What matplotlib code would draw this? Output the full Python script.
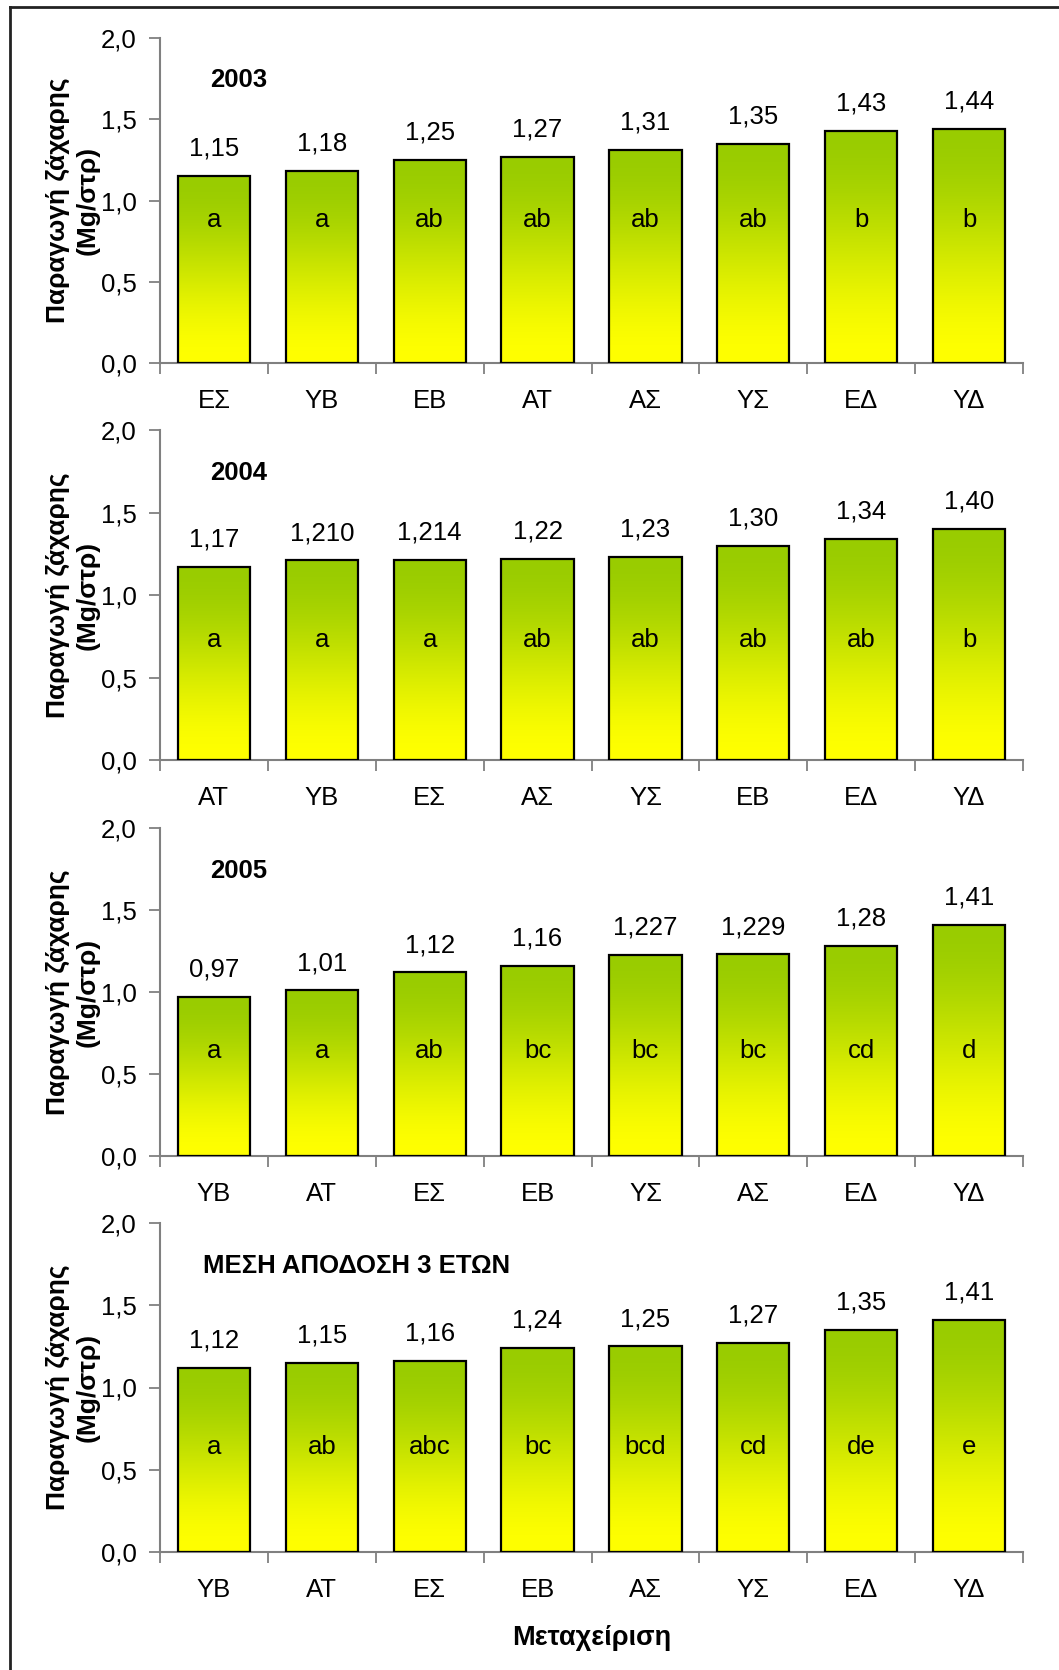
import numpy as np
import matplotlib
matplotlib.use("Agg")
import matplotlib.pyplot as plt
from matplotlib.lines import Line2D
from matplotlib.ticker import FuncFormatter

plt.rcParams['font.family'] = ['Liberation Sans', 'DejaVu Sans']

# ---- data ----
titles = ["2003", "2004", "2005", "ΜΕΣΗ ΑΠΟΔΟΣΗ 3 ΕΤΩΝ"]

cats_2003 = ["ΕΣ", "ΥΒ", "ΕΒ", "ΑΤ", "ΑΣ", "ΥΣ", "ΕΔ", "ΥΔ"]
vals_2003 = [1.15, 1.18, 1.25, 1.27, 1.31, 1.35, 1.43, 1.44]
lbls_2003 = ["1,15", "1,18", "1,25", "1,27", "1,31", "1,35", "1,43", "1,44"]
grp_2003 = ["a", "a", "ab", "ab", "ab", "ab", "b", "b"]

cats_2004 = ["ΑΤ", "ΥΒ", "ΕΣ", "ΑΣ", "ΥΣ", "ΕΒ", "ΕΔ", "ΥΔ"]
vals_2004 = [1.17, 1.210, 1.214, 1.22, 1.23, 1.30, 1.34, 1.40]
lbls_2004 = ["1,17", "1,210", "1,214", "1,22", "1,23", "1,30", "1,34", "1,40"]
grp_2004 = ["a", "a", "a", "ab", "ab", "ab", "ab", "b"]

cats_2005 = ["ΥΒ", "ΑΤ", "ΕΣ", "ΕΒ", "ΥΣ", "ΑΣ", "ΕΔ", "ΥΔ"]
vals_2005 = [0.97, 1.01, 1.12, 1.16, 1.227, 1.229, 1.28, 1.41]
lbls_2005 = ["0,97", "1,01", "1,12", "1,16", "1,227", "1,229", "1,28", "1,41"]
grp_2005 = ["a", "a", "ab", "bc", "bc", "bc", "cd", "d"]

cats_mean = ["ΥΒ", "ΑΤ", "ΕΣ", "ΕΒ", "ΑΣ", "ΥΣ", "ΕΔ", "ΥΔ"]
vals_mean = [1.12, 1.15, 1.16, 1.24, 1.25, 1.27, 1.35, 1.41]
lbls_mean = ["1,12", "1,15", "1,16", "1,24", "1,25", "1,27", "1,35", "1,41"]
grp_mean = ["a", "ab", "abc", "bc", "bcd", "cd", "de", "e"]

yticks = [0.0, 0.5, 1.0, 1.5, 2.0]
ylabel = "Παραγωγή ζάχαρης\n(Mg/στρ)"
xlabel = "Μεταχείριση"

panels = [
    (titles[0], cats_2003, vals_2003, lbls_2003, grp_2003),
    (titles[1], cats_2004, vals_2004, lbls_2004, grp_2004),
    (titles[2], cats_2005, vals_2005, lbls_2005, grp_2005),
    (titles[3], cats_mean, vals_mean, lbls_mean, grp_mean),
]

# ---- layout / style ----
W, H = 1059, 1670
fig = plt.figure(figsize=(W / 100, H / 100), dpi=100)

tops_px = [38, 430, 828, 1223]
bots_px = [363, 760, 1156, 1552]
left_px, right_px = 160, 1023
letter_y = [0.88, 0.73, 0.64, 0.64]
title_x = [0.058, 0.058, 0.058, 0.050]

green = np.array([0.60, 0.80, 0.0])
yellow = np.array([1.0, 1.0, 0.0])
s = np.linspace(0, 1, 256)             # 0 top -> 1 bottom
m = 3 * s ** 2 - 2 * s ** 3            # smooth transition
col = green[None, :] * (1 - m[:, None]) + yellow[None, :] * m[:, None]
grad = col[::-1][:, None, :]           # row 0 = bottom (origin lower)

axis_grey = "#808080"
fmt = FuncFormatter(lambda v, p: f"{v:.1f}".replace(".", ","))
FS = 18.5

for i, (title, cats, vals, lbls, grps) in enumerate(panels):
    ax = fig.add_axes([left_px / W, 1 - bots_px[i] / H,
                       (right_px - left_px) / W, (bots_px[i] - tops_px[i]) / H])
    x = np.arange(len(cats))
    bw = 0.67
    for xi, v in zip(x, vals):
        ax.imshow(grad, extent=(xi - bw / 2, xi + bw / 2, 0, v), origin="lower",
                  aspect="auto", interpolation="bilinear", zorder=2)
    ax.bar(x, vals, width=bw, facecolor="none", edgecolor="black",
           linewidth=1.6, zorder=3)
    for xi, v, lb, g in zip(x, vals, lbls, grps):
        ax.annotate(lb, (xi, v), xytext=(0, 11), textcoords="offset points",
                    ha="center", va="bottom", fontsize=FS, zorder=4)
        ax.text(xi, letter_y[i], g, ha="center", va="center", fontsize=FS, zorder=4)

    ax.set_xlim(-0.5, len(cats) - 0.5)
    ax.set_ylim(0, 2.0)
    ax.set_yticks(yticks)
    ax.yaxis.set_major_formatter(fmt)
    ax.set_xticks(np.arange(len(cats) + 1) - 0.5)
    ax.set_xticklabels([])
    ax.set_xticks(x, minor=True)
    ax.set_xticklabels(cats, minor=True)
    ax.tick_params(axis="x", which="major", length=8, width=1.3, color=axis_grey, direction="out")
    ax.tick_params(axis="x", which="minor", length=0, pad=19, labelsize=FS)
    ax.tick_params(axis="y", length=8, width=1.3, color=axis_grey, direction="out",
                   pad=9, labelsize=FS)
    for sp in ["top", "right"]:
        ax.spines[sp].set_visible(False)
    for sp in ["left", "bottom"]:
        ax.spines[sp].set_color(axis_grey)
        ax.spines[sp].set_linewidth(1.5)

    ax.text(title_x[i], 0.87, title, transform=ax.transAxes, ha="left", va="center",
            fontsize=FS, fontweight="bold")
    yc = 1 - (tops_px[i] + bots_px[i]) / 2 / H
    fig.text(73 / W, yc, ylabel, rotation=90, ha="center", va="center",
             multialignment="center", fontsize=19, fontweight="bold", linespacing=1.3)
    if i == 3:
        ax.set_xlabel(xlabel, fontsize=19.5, fontweight="bold", labelpad=16)

# outer frame (left and top)
fig.add_artist(Line2D([10 / W, 10 / W], [0, 1 - 7 / H], transform=fig.transFigure,
                      color="#222222", linewidth=2))
fig.add_artist(Line2D([10 / W, 1], [1 - 7 / H, 1 - 7 / H], transform=fig.transFigure,
                      color="#222222", linewidth=2))

fig.savefig("out.png", dpi=100)
